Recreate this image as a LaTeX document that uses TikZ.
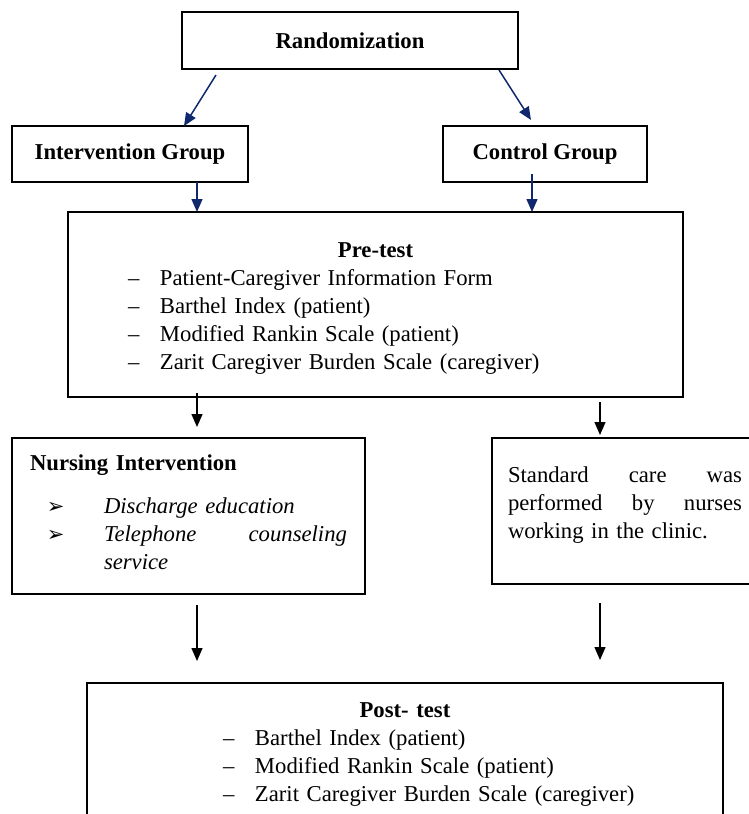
\documentclass[tikz,border=0pt]{standalone}
\usepackage{fontspec}
\setmainfont{Liberation Serif}
\newfontfamily\arrowfont{DejaVu Sans}
\usetikzlibrary{arrows.meta}

\definecolor{navyline}{RGB}{16,40,110}

% list lines inside the boxes
\newcommand{\dashline}[2]{\par\noindent\hspace*{#1}\makebox[32pt][l]{–}#2}
\newcommand{\pointline}[1]{\par\noindent\hspace*{17pt}\makebox[57pt][l]{\arrowfont\fontsize{21pt}{21pt}\selectfont ➢}#1}

\begin{document}
\begin{tikzpicture}[x=1pt,y=-1pt,
  every node/.style={font=\fontsize{22.7pt}{28pt}\selectfont},
  box/.style={draw,line width=2.8pt,inner sep=0pt,outer sep=0pt,anchor=north west},
  navyarrow/.style={draw=navyline,line width=1.5pt,-{Triangle[length=13pt,width=11pt]},navyline},
  blackarrow/.style={draw,line width=1.4pt,-{Triangle[length=13pt,width=11pt]}}]

\useasboundingbox (0,0) rectangle (749,814);

% top boxes
\node[box,minimum width=336pt,minimum height=57pt] (rand) at (182,12) {\textbf{Randomization}};
\node[box,minimum width=236pt,minimum height=56pt] (intv) at (12,126) {\textbf{Intervention Group}};
\node[box,minimum width=204pt,minimum height=56pt] (ctrl) at (443,126) {\textbf{Control Group}};

% pre-test
\node[box,text width=615pt,minimum height=185pt,align=left] (pre) at (68,212) {%
  {\centering\rule{0pt}{22pt}\textbf{Pre-test}\par}
  \dashline{60pt}{Patient-Caregiver Information Form}
  \dashline{60pt}{Barthel Index (patient)}
  \dashline{60pt}{Modified Rankin Scale (patient)}
  \dashline{60pt}{Zarit Caregiver Burden Scale (caregiver)}};

% the two groups
\node[box,text width=317pt,inner xsep=18pt,minimum height=156pt,align=left] (nurs) at (12,438) {%
  \noindent\textbf{Nursing Intervention}\par\vspace{15pt}
  \pointline{\textit{Discharge education}}
  \pointline{\makebox[243pt][s]{\textit{Telephone\hfill counseling}}}
  \par\noindent\hspace*{74pt}\textit{service}\rule[-7pt]{0pt}{7pt}};
\node[box,text width=234pt,inner xsep=16pt,minimum height=146pt,align=left] (std) at (492,438) {%
  \noindent\makebox[234pt][s]{Standard\hfill care\hfill was}
  \par\noindent\makebox[234pt][s]{performed\hfill by\hfill nurses}
  \par\noindent working in the clinic.\rule[-17pt]{0pt}{17pt}};

% post-test
\node[box,text width=636pt,minimum height=143pt,align=left] (post) at (87,683) {%
  {\centering\textbf{Post- test}\par}
  \dashline{136pt}{Barthel Index (patient)}
  \dashline{136pt}{Modified Rankin Scale (patient)}
  \dashline{136pt}{Zarit Caregiver Burden Scale (caregiver)}};

% arrows
\draw[navyarrow] ([xshift=34pt,yshift=-6pt]rand.south west) -- ([xshift=172pt]intv.north west);
\draw[navyarrow] ([xshift=-19pt,yshift=-1pt]rand.south east) -- ([xshift=88pt,yshift=6pt]ctrl.north west);
\draw[navyarrow] ([xshift=185pt]intv.south west) -- ([xshift=129pt]pre.north west);
\draw[navyarrow] ([xshift=89pt,yshift=8pt]ctrl.south west) -- ([xshift=464pt]pre.north west);
\draw[blackarrow] ([xshift=129pt,yshift=4pt]pre.south west) -- ([xshift=185pt,yshift=11pt]nurs.north west);
\draw[blackarrow] ([xshift=532pt,yshift=-5pt]pre.south west) -- ([xshift=108pt,yshift=3pt]std.north west);
\draw[blackarrow] ([xshift=185pt,yshift=-11pt]nurs.south west) -- ([xshift=110pt,yshift=22pt]post.north west);
\draw[blackarrow] ([xshift=108pt,yshift=-19pt]std.south west) -- ([xshift=513pt,yshift=23pt]post.north west);
\end{tikzpicture}
\end{document}
